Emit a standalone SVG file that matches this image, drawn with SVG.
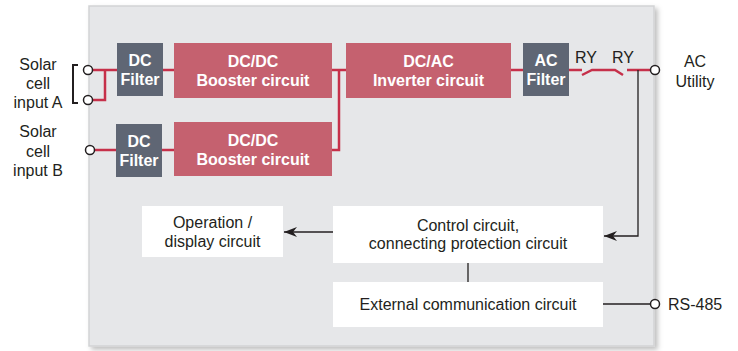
<svg xmlns="http://www.w3.org/2000/svg" width="738" height="351" viewBox="0 0 738 351">
<defs>
<style>
.txt{font-family:"Liberation Sans",Arial,sans-serif;font-size:16px;fill:#231f20;text-anchor:middle}
.btxt{font-family:"Liberation Sans",Arial,sans-serif;font-size:16px;font-weight:bold;fill:#ffffff;text-anchor:middle}
.red{fill:#c5616f}
.gray{fill:#5f6674}
.white{fill:#ffffff}
.rl{stroke:#c6304a;stroke-width:2.5;fill:none}
.bl{stroke:#231f20;stroke-width:1.3;fill:none}
.term{fill:#ffffff;stroke:#231f20;stroke-width:1.5}
</style>
<filter id="sh" x="-5%" y="-5%" width="110%" height="110%">
<feDropShadow dx="3" dy="3" stdDeviation="2.5" flood-color="#000" flood-opacity="0.25"/>
</filter>
<marker id="arr" viewBox="0 0 13 10" refX="13" refY="5" markerWidth="13" markerHeight="10" markerUnits="userSpaceOnUse" orient="auto">
<path d="M0,5 L13,0 L9,5 L13,10 Z" fill="#231f20" transform="rotate(180 6.5 5)"/>
</marker>
</defs>
<g id="panel">
<rect x="89" y="6" width="565" height="340" fill="#e6e7e9" stroke="#d2d3d5" stroke-width="1.5" filter="url(#sh)"/>
</g>
<g id="connectors">
<path class="rl" d="M88,70 H117"/>
<path class="rl" d="M88,100 H105 V70"/>
<path class="rl" d="M90,150 H116"/>
<path class="rl" d="M163,70 H174"/>
<path class="rl" d="M162,150 H174"/>
<path class="rl" d="M332,70 H346"/>
<path class="rl" d="M339,70 V150 H332"/>
<path class="rl" d="M511,70 H523"/>
<path class="rl" d="M569,70 H582"/>
<path class="rl" d="M582,75 L592,70 H615 L623,75"/>
<path class="rl" d="M627,70 H655"/>
<path d="M78,65 H73 V103 H78" stroke="#231f20" stroke-width="2" fill="none"/>
<path class="bl" d="M638,70 V236 H604" marker-end="url(#arr)"/>
<path class="bl" d="M333,232 H284" marker-end="url(#arr)"/>
<path class="bl" d="M468,263 V282"/>
<path class="bl" d="M603,304 H653"/>
<circle class="term" cx="88" cy="70" r="4.5"/>
<circle class="term" cx="88" cy="100" r="4.5"/>
<circle class="term" cx="90" cy="150" r="4.5"/>
<circle class="term" cx="655" cy="70" r="4.5"/>
<circle class="term" cx="655" cy="304" r="4.5"/>
</g>
<g id="dcfilterA">
<rect class="gray" x="117" y="43" width="46" height="53"/>
<text class="btxt" x="140" y="66">DC</text>
<text class="btxt" x="140" y="85">Filter</text>
</g>
<g id="boosterA">
<rect class="red" x="174" y="43" width="158" height="55"/>
<text class="btxt" x="253" y="67">DC/DC</text>
<text class="btxt" x="253" y="86">Booster circuit</text>
</g>
<g id="dcfilterB">
<rect class="gray" x="116" y="124" width="46" height="53"/>
<text class="btxt" x="139" y="147">DC</text>
<text class="btxt" x="139" y="166">Filter</text>
</g>
<g id="boosterB">
<rect class="red" x="174" y="122" width="158" height="54"/>
<text class="btxt" x="253" y="146">DC/DC</text>
<text class="btxt" x="253" y="165">Booster circuit</text>
</g>
<g id="inverter">
<rect class="red" x="346" y="43" width="165" height="55"/>
<text class="btxt" x="428.5" y="67">DC/AC</text>
<text class="btxt" x="428.5" y="86">Inverter circuit</text>
</g>
<g id="acfilter">
<rect class="gray" x="523" y="43" width="46" height="53"/>
<text class="btxt" x="546" y="66">AC</text>
<text class="btxt" x="546" y="85">Filter</text>
</g>
<g id="relays">
<text class="txt" x="586" y="63">RY</text>
<text class="txt" x="623" y="63">RY</text>
</g>
<g id="operation">
<rect class="white" x="142" y="206" width="141" height="51"/>
<text class="txt" x="212.5" y="228">Operation /</text>
<text class="txt" x="212.5" y="247">display circuit</text>
</g>
<g id="control">
<rect class="white" x="333" y="206" width="270" height="57"/>
<text class="txt" x="468" y="231">Control circuit,</text>
<text class="txt" x="468" y="249">connecting protection circuit</text>
</g>
<g id="external">
<rect class="white" x="333" y="282" width="270" height="45"/>
<text class="txt" x="468" y="310">External communication circuit</text>
</g>
<g id="inputA">
<text class="txt" x="38" y="70">Solar</text>
<text class="txt" x="38" y="89">cell</text>
<text class="txt" x="38" y="108">input A</text>
</g>
<g id="inputB">
<text class="txt" x="38" y="137">Solar</text>
<text class="txt" x="38" y="157">cell</text>
<text class="txt" x="38" y="176">input B</text>
</g>
<g id="acutility">
<text class="txt" x="695" y="67">AC</text>
<text class="txt" x="695" y="87">Utility</text>
</g>
<g id="rs485">
<text class="txt" x="668" y="310" style="text-anchor:start">RS-485</text>
</g>
</svg>
